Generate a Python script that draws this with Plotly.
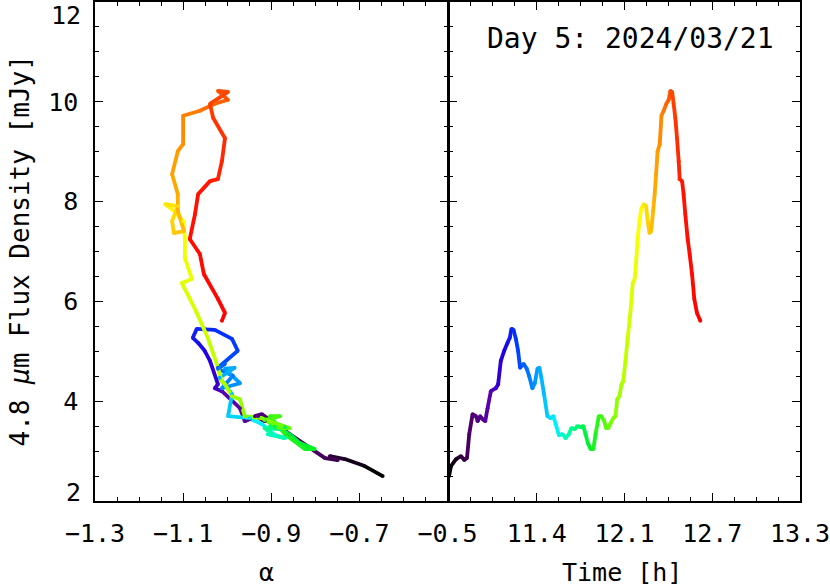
import plotly.graph_objects as go

# ---- data ----
time_h = [10.800, 10.814, 10.850, 10.885, 10.909, 10.928, 10.944, 10.968, 10.992, 11.004,
          11.022, 11.039, 11.058, 11.075, 11.098, 11.134, 11.150, 11.169, 11.193, 11.217,
          11.233, 11.245, 11.260, 11.276, 11.292, 11.306, 11.331, 11.354, 11.370, 11.394,
          11.411, 11.430, 11.444, 11.458, 11.477, 11.501, 11.524, 11.544, 11.560, 11.583,
          11.608, 11.631, 11.654, 11.671, 11.695, 11.714, 11.738, 11.757, 11.773, 11.789,
          11.809, 11.828, 11.844, 11.867, 11.885, 11.903, 11.920, 11.934, 11.951, 11.970,
          11.986, 11.998, 12.014, 12.029, 12.041, 12.057, 12.073, 12.093, 12.109, 12.123,
          12.135, 12.144, 12.157, 12.169, 12.187, 12.204, 12.215, 12.228, 12.240, 12.254,
          12.265, 12.275, 12.286, 12.301, 12.313, 12.329, 12.348, 12.365, 12.377, 12.389,
          12.400, 12.412, 12.424, 12.436, 12.443, 12.460, 12.471, 12.483, 12.500, 12.514,
          12.531, 12.547, 12.566, 12.590]

flux_mjy = [2.50, 2.70, 2.84, 2.90, 2.82, 2.86, 3.34, 3.74, 3.70, 3.60,
            3.70, 3.64, 3.60, 3.86, 4.20, 4.26, 4.34, 4.81, 5.01, 5.17,
            5.27, 5.45, 5.43, 5.25, 5.01, 4.67, 4.75, 4.65, 4.51, 4.26,
            4.36, 4.65, 4.67, 4.47, 4.14, 3.70, 3.66, 3.70, 3.54, 3.32,
            3.34, 3.26, 3.34, 3.46, 3.44, 3.50, 3.48, 3.50, 3.34, 3.16,
            3.04, 3.04, 3.34, 3.70, 3.70, 3.62, 3.46, 3.46, 3.56, 3.66,
            3.70, 4.04, 4.10, 4.34, 4.40, 4.81, 5.27, 5.81, 6.37, 6.45,
            6.87, 7.27, 7.61, 7.85, 7.95, 7.91, 7.61, 7.37, 7.41, 7.81,
            8.15, 8.55, 9.01, 9.15, 9.72, 9.82, 9.96, 10.04, 10.22, 10.20,
            9.96, 9.68, 9.27, 8.81, 8.45, 8.41, 8.15, 7.75, 7.25, 6.95,
            6.55, 6.05, 5.77, 5.61]

alpha = [-0.647, -0.688, -0.733, -0.767, -0.749, -0.778, -0.858, -0.921, -0.937, -0.915,
         -0.930, -0.949, -0.960, -0.971, -1.012, -1.028, -1.021, -1.039, -1.051, -1.066,
         -1.078, -1.069, -1.028, -0.989, -0.976, -1.021, -1.005, -1.021, -0.987, -1.012,
         -0.971, -1.005, -0.983, -1.017, -0.989, -0.998, -0.949, -0.960, -0.921, -0.892,
         -0.908, -0.869, -0.899, -0.915, -0.880, -0.903, -0.869, -0.892, -0.858, -0.835,
         -0.801, -0.824, -0.869, -0.903, -0.880, -0.915, -0.880, -0.858, -0.892, -0.921,
         -0.960, -0.971, -0.989, -1.005, -1.012, -1.026, -1.044, -1.071, -1.103, -1.080,
         -1.096, -1.096, -1.100, -1.125, -1.141, -1.112, -1.125, -1.121, -1.098, -1.112,
         -1.112, -1.125, -1.112, -1.100, -1.100, -1.062, -1.028, -0.998, -1.021, -0.998,
         -1.039, -1.032, -1.005, -1.012, -1.021, -1.039, -1.066, -1.073, -1.085, -1.062,
         -1.053, -1.021, -1.005, -1.012]

alpha_ticks = [-1.3, -1.1, -0.9, -0.7, -0.5]
alpha_ticktext = ["\u22121.3", "\u22121.1", "\u22120.9", "\u22120.7", "\u22120.5"]
time_tickvals = [11.425, 12.05, 12.675, 13.3]
time_ticktext = ["11.4", "12.1", "12.7", "13.3"]
flux_ticks = [2, 4, 6, 8, 10, 12]
flux_ticktext = ["", "4", "6", "8", "10", ""]
label_text = "Day 5: 2024/03/21"

# ---- rainbow colour table (black -> purple -> blue -> cyan -> green -> yellow -> red) ----
stops = [
    (0.00, (0, 0, 0)), (0.08, (75, 0, 100)), (0.16, (90, 0, 170)), (0.22, (30, 0, 230)),
    (0.27, (0, 60, 255)), (0.35, (0, 160, 255)), (0.42, (0, 240, 255)), (0.48, (0, 255, 160)),
    (0.56, (0, 240, 40)), (0.64, (110, 255, 0)), (0.71, (200, 255, 0)), (0.76, (255, 255, 0)),
    (0.82, (255, 170, 0)), (0.88, (255, 80, 0)), (0.93, (255, 20, 0)), (1.00, (255, 0, 0)),
]


def cmap(v):
    v = min(max(v, 0.0), 1.0)
    for (a, ca), (b, cb) in zip(stops[:-1], stops[1:]):
        if a <= v <= b:
            f = (v - a) / (b - a) if b > a else 0
            c = [round(ca[k] + f * (cb[k] - ca[k])) for k in range(3)]
            return f"rgb({c[0]},{c[1]},{c[2]})"
    return "rgb(255,0,0)"


t0, t1 = time_h[0], time_h[-1]
norm = [(t - t0) / (t1 - t0) for t in time_h]
pt_colors = [cmap(v) for v in norm]

fig = go.Figure()
LW = 3.8
n = len(time_h)
for xs, xa, ya in [(alpha, "x", "y"), (time_h, "x2", "y2")]:
    for i in range(n - 1):
        c = cmap((norm[i] + norm[i + 1]) / 2)
        fig.add_trace(go.Scatter(x=[xs[i], xs[i + 1]], y=[flux_mjy[i], flux_mjy[i + 1]],
                                 mode="lines", line=dict(color=c, width=LW),
                                 xaxis=xa, yaxis=ya, hoverinfo="skip"))
    fig.add_trace(go.Scatter(x=xs, y=flux_mjy, mode="markers",
                             marker=dict(color=pt_colors, size=LW, line=dict(width=0)),
                             xaxis=xa, yaxis=ya, hoverinfo="skip"))

FONT = "DejaVu Sans Mono"
TICKSIZE = 25
axis_common = dict(showline=True, linecolor="black", linewidth=1.5, mirror="allticks",
                   ticks="inside", tickcolor="black", tickwidth=1.2, showgrid=False,
                   zeroline=False, automargin=False, ticklabeloverflow="allow",
                   tickfont=dict(family=FONT, size=TICKSIZE, color="black"))

W_PLOT = 830 - 95 - 30
split = 0.5
fig.update_layout(
    width=830, height=586,
    margin=dict(l=95, r=30, t=2, b=85),
    paper_bgcolor="white", plot_bgcolor="white",
    showlegend=False,
    xaxis=dict(domain=[0, split], range=[-1.3, -0.5], tickmode="array", tickvals=alpha_ticks,
               ticktext=alpha_ticktext, ticklen=8, anchor="y",
               minor=dict(ticks="inside", ticklen=4, tickmode="linear", tick0=-1.3, dtick=0.05,
                          tickcolor="black"),
               ticklabelstandoff=9, **axis_common),
    xaxis2=dict(domain=[split + 1.5 / W_PLOT, 1], range=[10.8, 13.3], tickmode="array",
                tickvals=time_tickvals, ticktext=time_ticktext, ticklen=8, anchor="y2",
                minor=dict(ticks="inside", ticklen=4, tickmode="linear", tick0=10.8, dtick=0.15625,
                           tickcolor="black"),
                ticklabelstandoff=9, **axis_common),
    yaxis=dict(domain=[0, 1], range=[2, 12], tickmode="array", tickvals=flux_ticks,
               ticktext=flux_ticktext, ticklen=8, anchor="x",
               minor=dict(ticks="inside", ticklen=4, tickmode="linear", tick0=2, dtick=0.5,
                          tickcolor="black"),
               ticklabelstandoff=10, **axis_common),
    yaxis2=dict(domain=[0, 1], range=[2, 12], tickmode="array", tickvals=flux_ticks, ticklen=8,
                anchor="x2", matches="y", showticklabels=False,
                minor=dict(ticks="inside", ticklen=4, tickmode="linear", tick0=2, dtick=0.5,
                           tickcolor="black"),
                **axis_common),
)

# edge tick labels (kept inside the page as in the reference)
fig.add_annotation(text="12", xref="paper", yref="paper", x=0, xshift=-12, y=1, yshift=-13,
                   xanchor="right", yanchor="middle", showarrow=False,
                   font=dict(family=FONT, size=TICKSIZE, color="black"))
fig.add_annotation(text="2", xref="paper", yref="paper", x=0, xshift=-12, y=0, yshift=9,
                   xanchor="right", yanchor="middle", showarrow=False,
                   font=dict(family=FONT, size=TICKSIZE, color="black"))

fig.add_annotation(text=label_text, xref="paper", yref="paper", x=0.759, y=0.926,
                   xanchor="center", yanchor="middle", showarrow=False,
                   font=dict(family=FONT, size=28, color="black"))
fig.add_annotation(text="\u03b1", xref="paper", yref="paper", x=0.243, y=0, yshift=-71,
                   xanchor="center", yanchor="middle", showarrow=False,
                   font=dict(family=FONT, size=25, color="black"))
fig.add_annotation(text="Time [h]", xref="paper", yref="paper", x=0.748, y=0, yshift=-71,
                   xanchor="center", yanchor="middle", showarrow=False,
                   font=dict(family=FONT, size=25, color="black"))
fig.add_annotation(text="4.8 <i>\u03bc</i>m Flux Density [mJy]", xref="paper", yref="paper",
                   x=0, xshift=-76, y=0.5, xanchor="center", yanchor="middle", textangle=-90,
                   showarrow=False, font=dict(family=FONT, size=26, color="black"))

fig.write_html("out.html", post_script="document.body.style.margin='0px';",
               config={"displayModeBar": False, "displaylogo": False})
